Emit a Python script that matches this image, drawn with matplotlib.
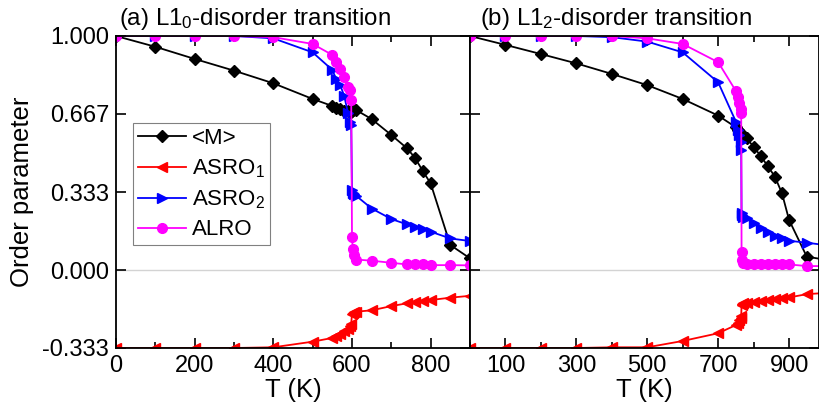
import matplotlib
matplotlib.use("Agg")
import matplotlib.pyplot as plt
from matplotlib.ticker import MultipleLocator, FixedLocator

plt.rcParams['font.family'] = ['Liberation Sans', 'DejaVu Sans']
plt.rcParams['mathtext.fontset'] = 'custom'
plt.rcParams['mathtext.rm'] = 'Liberation Sans'
plt.rcParams['mathtext.it'] = 'Liberation Sans:italic'

# ---- panel (a): L1_0-disorder transition ----
T_a = [0, 100, 200, 300, 400, 500, 550, 560, 570, 580, 590, 595, 598, 600, 602,
       605, 610, 650, 700, 740, 760, 780, 800, 850, 900]
M_a = [1.0, 0.954, 0.902, 0.852, 0.798, 0.731, 0.701, 0.693, 0.686, 0.681, 0.678,
       0.677, 0.676, 0.680, 0.685, 0.687, 0.684, 0.645, 0.577, 0.520, 0.480, 0.423,
       0.370, 0.107, 0.050]
ASRO1_a = [-0.333, -0.333, -0.333, -0.333, -0.330, -0.306, -0.290, -0.282, -0.272,
           -0.262, -0.250, -0.240, -0.230, -0.186, -0.183, -0.180, -0.178, -0.172,
           -0.154, -0.142, -0.138, -0.132, -0.128, -0.118, -0.110]
ASRO2_a = [1.0, 1.0, 1.0, 1.0, 0.990, 0.930, 0.855, 0.815, 0.790, 0.745, 0.670,
           0.634, 0.620, 0.342, 0.330, 0.325, 0.318, 0.263, 0.218, 0.195, 0.185,
           0.175, 0.164, 0.135, 0.124]
ALRO_a = [1.0, 1.0, 1.0, 1.0, 0.995, 0.966, 0.919, 0.890, 0.860, 0.826, 0.783,
          0.769, 0.726, 0.142, 0.090, 0.065, 0.045, 0.040, 0.031, 0.024, 0.026,
          0.024, 0.021, 0.021, 0.020]

# ---- panel (b): L1_2-disorder transition ----
T_b = [0, 100, 200, 300, 400, 500, 600, 700, 750, 755, 760, 763, 765, 766, 768,
       770, 780, 800, 820, 840, 860, 880, 900, 950, 1000]
M_b = [1.0, 0.962, 0.923, 0.883, 0.838, 0.790, 0.731, 0.660, 0.610, 0.600, 0.591,
       0.585, 0.580, 0.578, 0.575, 0.572, 0.563, 0.527, 0.487, 0.444, 0.399, 0.328,
       0.214, 0.057, 0.045]
ASRO1_b = [-0.333, -0.333, -0.333, -0.333, -0.330, -0.330, -0.303, -0.270, -0.235,
           -0.225, -0.215, -0.205, -0.195, -0.150, -0.145, -0.142, -0.140, -0.136,
           -0.132, -0.128, -0.125, -0.120, -0.117, -0.103, -0.098]
ASRO2_b = [1.0, 1.0, 1.0, 1.0, 0.995, 0.976, 0.930, 0.802, 0.634, 0.600, 0.577,
           0.545, 0.513, 0.242, 0.235, 0.228, 0.221, 0.199, 0.178, 0.164, 0.145,
           0.135, 0.125, 0.117, 0.107]
ALRO_b = [1.0, 1.0, 1.0, 1.0, 1.0, 0.990, 0.966, 0.888, 0.765, 0.740, 0.712, 0.690,
          0.672, 0.078, 0.043, 0.030, 0.028, 0.027, 0.026, 0.026, 0.025, 0.025,
          0.024, 0.017, 0.017]

labels = ['<M>', 'ASRO$_1$', 'ASRO$_2$', 'ALRO']
titles = ['(a) L1$_0$-disorder transition', '(b) L1$_2$-disorder transition']
ytick_vals = [-0.333, 0.0, 0.333, 0.667, 1.0]
ytick_labels = ['-0.333', '0.000', '0.333', '0.667', '1.000']

styles = [dict(color='black', marker='D', ms=6),
          dict(color='#ff0000', marker='<', ms=7),
          dict(color='#0000ff', marker='>', ms=7),
          dict(color='#ff00ff', marker='o', ms=7)]

W, H = 819, 409
fig = plt.figure(figsize=(W / 100, H / 100), dpi=100)
bottom = 1 - 348 / H
height = (348 - 36) / H
ax1 = fig.add_axes([116 / W, bottom, (470 - 116) / W, height])
ax2 = fig.add_axes([470 / W, bottom, (818.5 - 470) / W, height])

panels = [(ax1, T_a, [M_a, ASRO1_a, ASRO2_a, ALRO_a], (0, 900), 0.008),
          (ax2, T_b, [M_b, ASRO1_b, ASRO2_b, ALRO_b], (0, 983), 0.030)]

for i, (ax, T, series, xl, tx) in enumerate(panels):
    ax.axhline(0, color='#d3d3d3', lw=1.0, zorder=0)
    for ys, st, lab in zip(series, styles, labels):
        ax.plot(T, ys, color=st['color'], marker=st['marker'], ms=st['ms'],
                mec=st['color'], mfc=st['color'], lw=1.3, label=lab)
    ax.set_xlim(*xl)
    ax.set_ylim(-0.333, 1.0)
    ax.yaxis.set_major_locator(FixedLocator(ytick_vals))
    if i == 0:
        ax.set_yticklabels(ytick_labels)
        ax.set_ylabel('Order parameter', fontsize=18.5, labelpad=6)
        ax.xaxis.set_major_locator(MultipleLocator(200))
        ax.xaxis.set_minor_locator(MultipleLocator(100))
    else:
        ax.set_yticklabels([])
        ax.xaxis.set_major_locator(FixedLocator([100, 300, 500, 700, 900]))
        ax.xaxis.set_minor_locator(FixedLocator([0, 200, 400, 600, 800]))
    ax.set_xlabel('T (K)', fontsize=18.5, labelpad=1)
    ax.tick_params(which='both', direction='in', top=True, right=True,
                   labelsize=17, width=1.2, pad=5)
    ax.tick_params(which='major', length=7)
    ax.tick_params(which='minor', length=4)
    for sp in ax.spines.values():
        sp.set_linewidth(1.3)
    ax.text(tx, 1.012, titles[i], transform=ax.transAxes, fontsize=17.3,
            ha='left', va='bottom')

leg = ax1.legend(loc='upper left', bbox_to_anchor=(133 / W, 1 - 123 / H),
                 bbox_transform=fig.transFigure, fontsize=16, frameon=True,
                 fancybox=False, edgecolor='#808080', framealpha=1,
                 handlelength=2.15, labelspacing=0.38, borderaxespad=0,
                 borderpad=0.22, handletextpad=0.3)
leg.get_frame().set_linewidth(0.8)

fig.savefig('out.png', dpi=100)
